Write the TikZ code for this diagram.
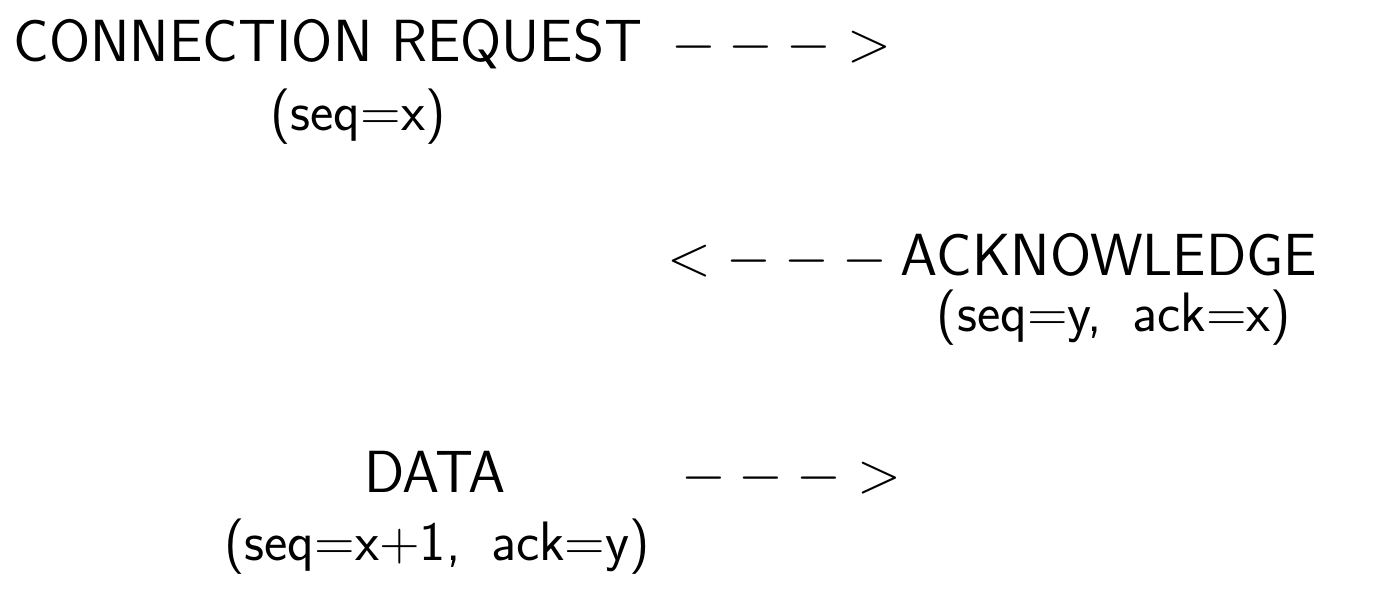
\documentclass[tikz,border=0pt]{standalone}
\usepackage{fontspec}
\newcommand\seqfont{\fontsize{20}{24}\selectfont\sffamily\spaceskip 0.55em\relax}
\begin{document}
\begin{tikzpicture}[x=0.36pt,y=-0.36pt,
	every node/.style={font=\huge\sffamily,inner sep=0,anchor=base},
	msg/.style={font=\fontsize{21.4}{26}\selectfont\sffamily},
	seqlabel/.style={font=\seqfont}]
\useasboundingbox (0,0) rectangle (1374,601);
% connection request
\node[msg] (req) at (328,62) {CONNECTION REQUEST};
\node (reqarrow) at (781,62) {$--->$};
\node[seqlabel] (reqseq) at (358,131) {(seq=x)};
% acknowledge
\node (ackarrow) at (777,276) {$<---$};
\node[msg] (ack) at (1109,276) {ACKNOWLEDGE};
\node[seqlabel] (ackseq) at (1114,331) {(seq=y, ack=x)};
% data
\node[msg] (data) at (435,492) {DATA};
\node (dataarrow) at (791,492) {$--->$};
\node[seqlabel] (dataseq) at (437,560) {(seq=x+1, ack=y)};
\end{tikzpicture}
\end{document}
